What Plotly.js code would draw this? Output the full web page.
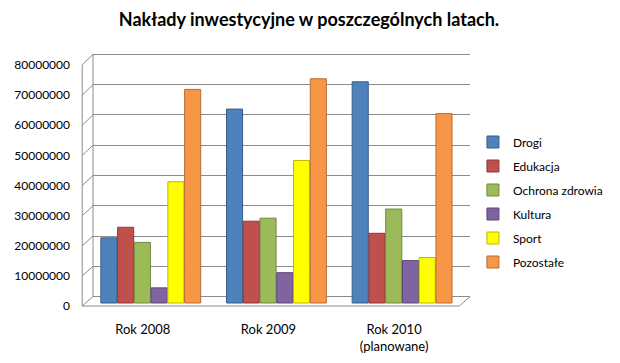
<!DOCTYPE html>
<html><head><meta charset="utf-8">
<script src="https://cdn.plot.ly/plotly-3.0.1.min.js"></script>
<style>html,body{margin:0;padding:0;background:#fff}#c{width:620px;height:363px}</style>
</head><body><div id="c"></div>
<script>
const categories = ["Rok 2008", "Rok 2009", "Rok 2010<br>(planowane)"];
const seriesNames = ["Drogi", "Edukacja", "Ochrona zdrowia", "Kultura", "Sport", "Pozostałe"];
const drogi = [21500000, 64000000, 73000000];
const edukacja = [25000000, 27000000, 23000000];
const ochronaZdrowia = [20000000, 28000000, 31000000];
const kultura = [5000000, 10000000, 14000000];
const sport = [40000000, 47000000, 15000000];
const pozostale = [70500000, 74000000, 62500000];
const yTicks = [0, 10000000, 20000000, 30000000, 40000000, 50000000, 60000000, 70000000, 80000000];
const yTickLabels = ["0", "10000000", "20000000", "30000000", "40000000", "50000000", "60000000", "70000000", "80000000"];

const values = [drogi, edukacja, ochronaZdrowia, kultura, sport, pozostale];
const colors = ["#4F81BD", "#C0504D", "#9BBB59", "#8064A2", "#FFFF00", "#F79646"];
const lineColors = ["#385D8A", "#8C3836", "#71893F", "#5C4776", "#B8B800", "#B66D31"];

// pixel geometry of the plot area
const L = 93, R = 478, T = 50, B = 312;
const W = R - L, H = B - T;
const px2x = p => (p - L) / W;
const px2y = p => (B - p) / H;

const traces = [];
values.forEach((v, i) => {
  traces.push({
    type: "bar", x: [0, 1, 2], y: v, name: seriesNames[i], legendgroup: "g" + i,
    marker: {color: colors[i], line: {color: lineColors[i], width: 1}},
    xaxis: "x", yaxis: "y", hoverinfo: "none"
  });
});
traces.push({type: "scatter", mode: "markers", x: [], y: [], showlegend: false, xaxis: "x", yaxis: "y2"});
traces.push({type: "scatter", mode: "markers", x: [], y: [], showlegend: false, xaxis: "x", yaxis: "y3"});

// scales: bars 30.3 px / 10M with 0 at 303; grid (back wall) 0 at 296.7; labels 0 at 306, 80M at 65
const barPer = 30.3 / 1e7, gridPer = 30.3 / 1e7, labPer = 30.125 / 1e7;
const rng = (zeroPx, per) => [-(B - zeroPx) / per, (zeroPx - T) / per];

const shapes = [];
const gridPx = v => 296.7 - v * gridPer;
const labPx = v => 306 - v * labPer;
yTicks.forEach(v => {
  shapes.push({type: "line", xref: "paper", yref: "paper",
    x0: px2x(82), y0: px2y(labPx(v)), x1: px2x(L), y1: px2y(gridPx(v)),
    line: {color: "#8c8c8c", width: 1}});
});
shapes.push({type: "line", xref: "paper", yref: "paper",
  x0: px2x(82), y0: px2y(labPx(0)), x1: px2x(82), y1: px2y(labPx(80000000)),
  line: {color: "#8c8c8c", width: 1}});
shapes.push({type: "line", xref: "paper", yref: "paper",
  x0: px2x(L), y0: px2y(gridPx(0)), x1: px2x(L), y1: px2y(gridPx(80000000)),
  line: {color: "#8c8c8c", width: 1}});
shapes.push({type: "path", xref: "paper", yref: "paper",
  path: "M " + px2x(82) + " " + px2y(labPx(0)) + " L " + px2x(467) + " " + px2y(labPx(0)) + " L " + px2x(R) + " " + px2y(gridPx(0)),
  line: {color: "#8c8c8c", width: 1}});

const layout = {
  width: 620, height: 363,
  margin: {l: L, r: 620 - R, t: T, b: 363 - B},
  paper_bgcolor: "#fff", plot_bgcolor: "rgba(0,0,0,0)",
  font: {family: "Lato, 'Open Sans', sans-serif", color: "#000", size: 12},
  title: {text: "<b>Nakłady inwestycyjne w poszczególnych latach.</b>", x: 309 / 620, xanchor: "center", xref: "container",
    y: 1 - 20 / 363, yanchor: "middle", yref: "container",
    font: {family: "Lato, sans-serif", size: 18, color: "#000"}},
  barmode: "group", bargap: 0.2, bargroupgap: 0.04,
  xaxis: {range: [-(152 - L) / 128.33, (R - 152) / 128.33], tickmode: "array", tickvals: [0, 1, 2], ticktext: categories,
    showgrid: false, zeroline: false, showline: false, ticks: "", ticklabelshift: -8, ticklabelstandoff: 8,
    tickfont: {size: 13}, fixedrange: true},
  yaxis: {range: rng(303, barPer), showgrid: false, zeroline: false, showticklabels: false, showline: false, ticks: ""},
  yaxis2: {range: rng(gridPx(0), gridPer), overlaying: "y", tickmode: "array", tickvals: yTicks, showgrid: true,
    gridcolor: "#8c8c8c", gridwidth: 1, zeroline: false, showticklabels: false, showline: false, ticks: ""},
  yaxis3: {range: rng(306, labPer), overlaying: "y", side: "left", tickmode: "array", tickvals: yTicks, ticktext: yTickLabels,
    showgrid: false, zeroline: false, showline: false, ticks: "", ticklabelstandoff: 22, tickfont: {size: 12}},
  legend: {x: px2x(481), xanchor: "left", y: px2y(202), yanchor: "middle", tracegroupgap: 5,
    font: {size: 12}, bgcolor: "rgba(0,0,0,0)", itemwidth: 30},
  shapes: shapes,
  showlegend: true
};
Plotly.newPlot("c", traces, layout, {staticPlot: true});
</script></body></html>
